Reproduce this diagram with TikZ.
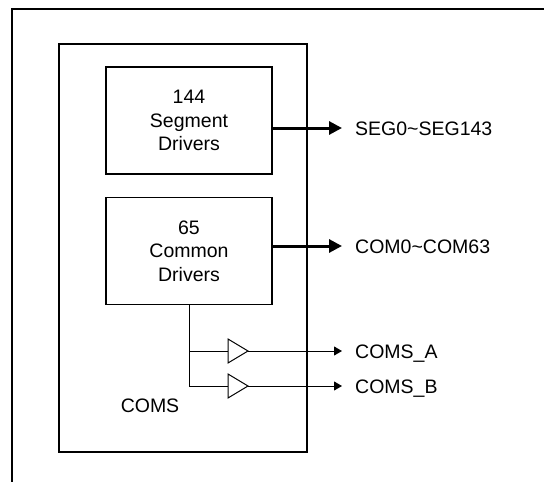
\documentclass[tikz,border=0pt]{standalone}
\usepackage{fontspec}
\setmainfont{Liberation Sans}
\usetikzlibrary{arrows.meta,positioning}
\tikzset{
  drv/.style={draw, line width=1.3pt, minimum width=166pt, minimum height=107pt, align=center, inner sep=0pt},
  bus/.style={line width=3pt, -{Triangle[length=13pt,width=13pt]}},
  sig/.style={line width=1pt, -{Triangle[length=8pt,width=9pt]}},
  pin/.style={anchor=west, inner sep=0pt, text height=14pt, text depth=0pt}
}
\begin{document}
\begin{tikzpicture}[x=1pt, y=-1pt, line join=miter, font=\fontsize{19.5}{23.5}\selectfont]
  \useasboundingbox (0,0) rectangle (544,482);
  % frame
  \draw[line width=2.3pt] (12,482)--(12,9)--(544,9);
  \node[draw, line width=1.3pt, minimum width=248pt, minimum height=408pt] (chip) at (183,248) {};
  % drivers
  \node[drv] (seg) at (189,120.5) {144\\Segment\\Drivers};
  \node[drv] (com) at (189,251) {65\\Common\\Drivers};
  \node (coms) at (150,406) {COMS};
  % outputs
  \node[pin] (segout) at (355,128) {SEG0\textasciitilde SEG143};
  \node[pin] (comout) at (355,246) {COM0\textasciitilde COM63};
  \node[pin] (comsa) at (355,351) {COMS\_A};
  \node[pin] (comsb) at (355,386) {COMS\_B};
  \draw[bus] (seg.east |- segout.west) -- ([xshift=-13pt]segout.west);
  \draw[bus] (com.east |- comout.west) -- ([xshift=-13pt]comout.west);
  % buffers
  \coordinate (bufa) at (228,351);
  \coordinate (bufb) at (228,386);
  \draw[line width=1pt] (com.south) -- (com.south |- bufb) -- (bufb);
  \draw[line width=1pt] (com.south |- bufa) -- (bufa);
  \foreach \b in {bufa,bufb}
    \draw[line width=1pt] (\b) -- ++(0,-12) -- ++(20,12) -- ++(-20,12) -- cycle;
  \draw[sig] ([xshift=20pt]bufa) -- ([xshift=-13pt]comsa.west);
  \draw[sig] ([xshift=20pt]bufb) -- ([xshift=-13pt]comsb.west);
\end{tikzpicture}
\end{document}
